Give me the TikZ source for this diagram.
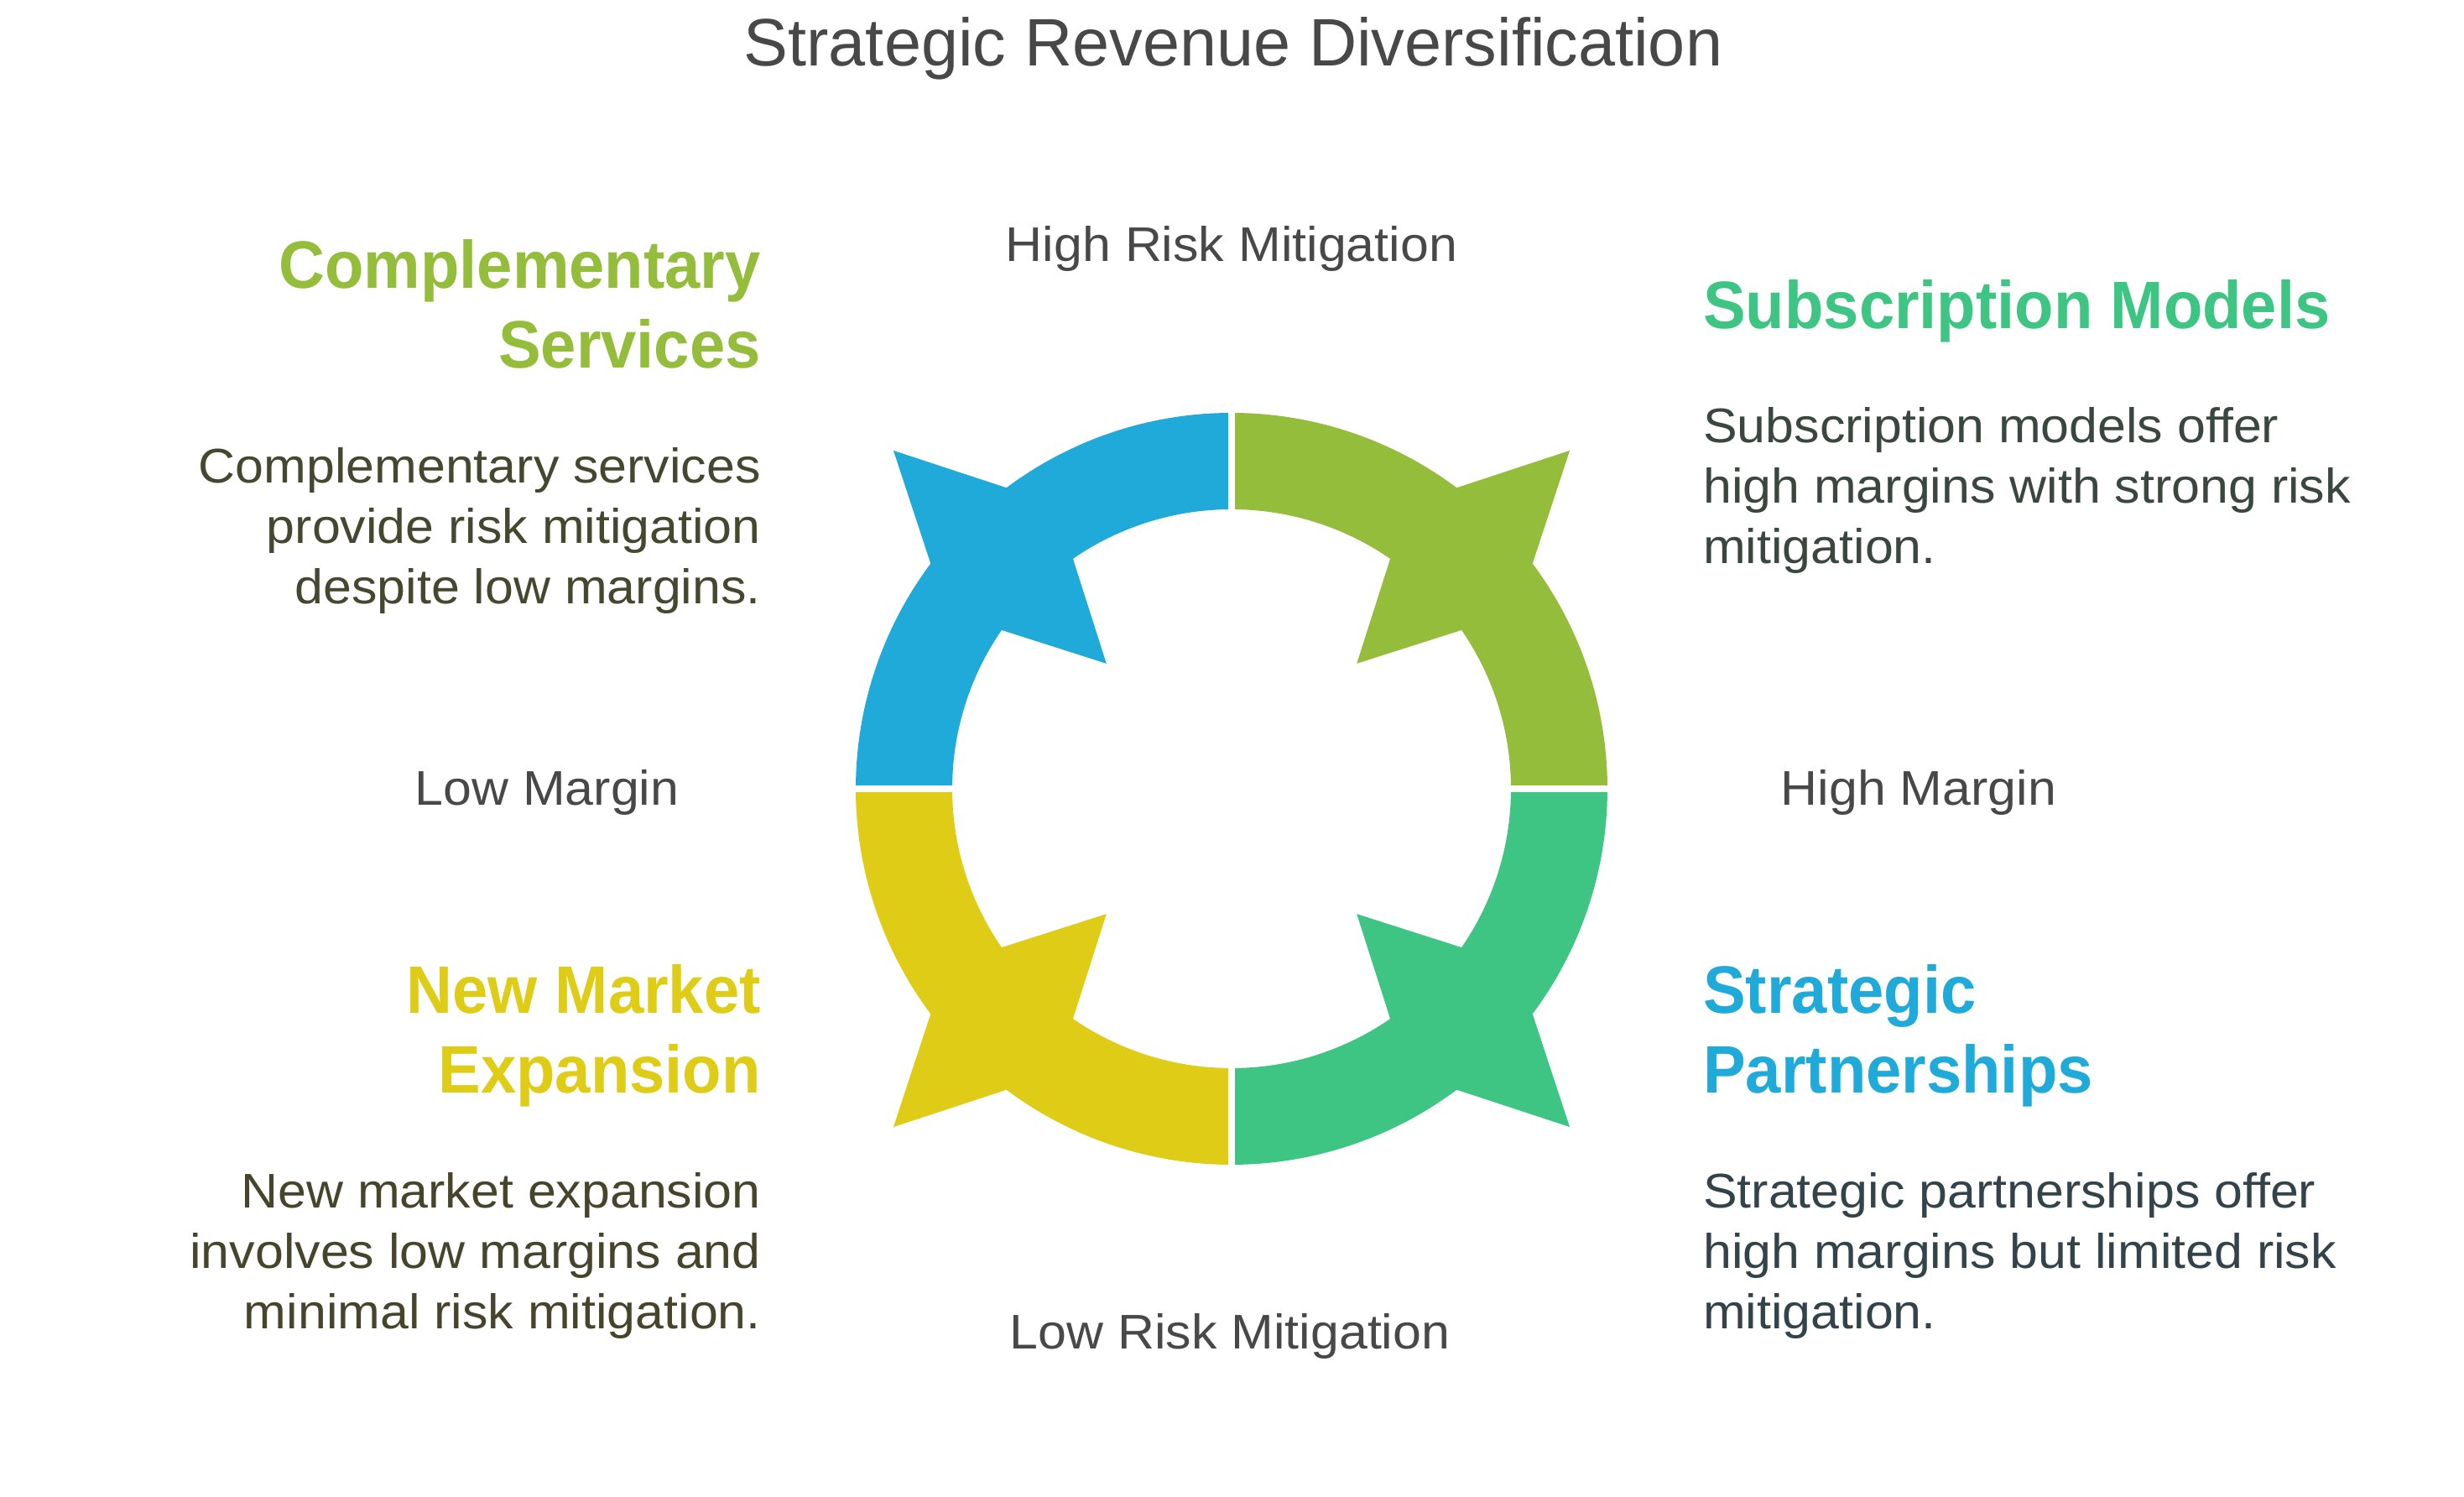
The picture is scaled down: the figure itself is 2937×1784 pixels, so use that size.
\documentclass[tikz,border=0pt]{standalone}
\usepackage{fontspec}
\setmainfont{Liberation Sans}
\newfontfamily\txtfont[FakeStretch=1.05]{Liberation Sans}
\newfontfamily\ttlfont[FakeStretch=0.99]{Liberation Sans}
\newfontfamily\hdfont[FakeStretch=0.95]{Liberation Sans}
\definecolor{cGray}{HTML}{484848}
\definecolor{cOlive}{HTML}{93BD3A}
\definecolor{cBlue}{HTML}{20AAD9}
\definecolor{cYellow}{HTML}{DFCC16}
\definecolor{cTeal}{HTML}{3EC583}
\definecolor{bTL}{HTML}{45472F}
\definecolor{bTR}{HTML}{39473F}
\definecolor{bBL}{HTML}{47442C}
\definecolor{bBR}{HTML}{33434A}
\tikzset{
  ttl/.style={font=\ttlfont\fontsize{80}{96}\selectfont, text=cGray, inner sep=0, anchor=base},
  axislbl/.style={font=\txtfont\fontsize{58}{72}\selectfont, text=cGray, inner sep=0, anchor=base},
  head/.style={font=\hdfont\bfseries\fontsize{80}{95}\selectfont, inner sep=0},
  body/.style={font=\txtfont\fontsize{58}{72}\selectfont, inner sep=0},
}
\begin{document}
\begin{tikzpicture}[x=1pt,y=1pt]
\fill[white] (0,0) rectangle (2937,1784);
\useasboundingbox (0,0) rectangle (2937,1784);

% ring quadrants
\begin{scope}[shift={(1468,844)}]
\foreach \b/\c in {0/cOlive, 90/cBlue, 180/cYellow, 270/cTeal}{
  \fill[\c] ({\b+0.51}:448) arc[start angle={\b+0.51}, end angle={\b+36.8}, radius=448]
    -- ({\b+45}:570) -- ({\b+53.2}:448)
    arc[start angle={\b+53.2}, end angle={\b+89.49}, radius=448]
    -- ({\b+89.31}:333)
    arc[start angle={\b+89.31}, end angle={\b+55.4}, radius=333]
    -- ({\b+45}:211) -- ({\b+34.6}:333)
    arc[start angle={\b+34.6}, end angle={\b+0.69}, radius=333] -- cycle;
}
\end{scope}

% title
\node[ttl] (title) at (1470,1705) {Strategic Revenue Diversification};

% axis labels
\node[axislbl] (hrm) at (1468,1472) {High Risk Mitigation};
\node[axislbl] (lrm) at (1466,176) {Low Risk Mitigation};
\node[axislbl] (lm) at (652,824) {Low Margin};
\node[axislbl] (hm) at (2287,824) {High Margin};

% top-left
\node[head, text=cOlive, anchor=base east] (hTL) at (907,1440)
  {\begin{tabular}[t]{@{}r@{}}Complementary\\Services\end{tabular}};
\node[body, text=bTL, anchor=base east] (dTL) at (907,1208)
  {\begin{tabular}[t]{@{}r@{}}Complementary services\\provide risk mitigation\\despite low margins.\end{tabular}};

% top-right
\node[head, text=cTeal, anchor=base west] (hTR) at (2030,1392)
  {\begin{tabular}[t]{@{}l@{}}Subscription Models\end{tabular}};
\node[body, text=bTR, anchor=base west] (dTR) at (2030,1256)
  {\begin{tabular}[t]{@{}l@{}}Subscription models offer\\high margins with strong risk\\mitigation.\end{tabular}};

% bottom-left
\node[head, text=cYellow, anchor=base east] (hBL) at (907,576)
  {\begin{tabular}[t]{@{}r@{}}New Market\\Expansion\end{tabular}};
\node[body, text=bBL, anchor=base east] (dBL) at (907,344)
  {\begin{tabular}[t]{@{}r@{}}New market expansion\\involves low margins and\\minimal risk mitigation.\end{tabular}};

% bottom-right
\node[head, text=cBlue, anchor=base west] (hBR) at (2030,576)
  {\begin{tabular}[t]{@{}l@{}}Strategic\\Partnerships\end{tabular}};
\node[body, text=bBR, anchor=base west] (dBR) at (2030,344)
  {\begin{tabular}[t]{@{}l@{}}Strategic partnerships offer\\high margins but limited risk\\mitigation.\end{tabular}};
\end{tikzpicture}
\end{document}
